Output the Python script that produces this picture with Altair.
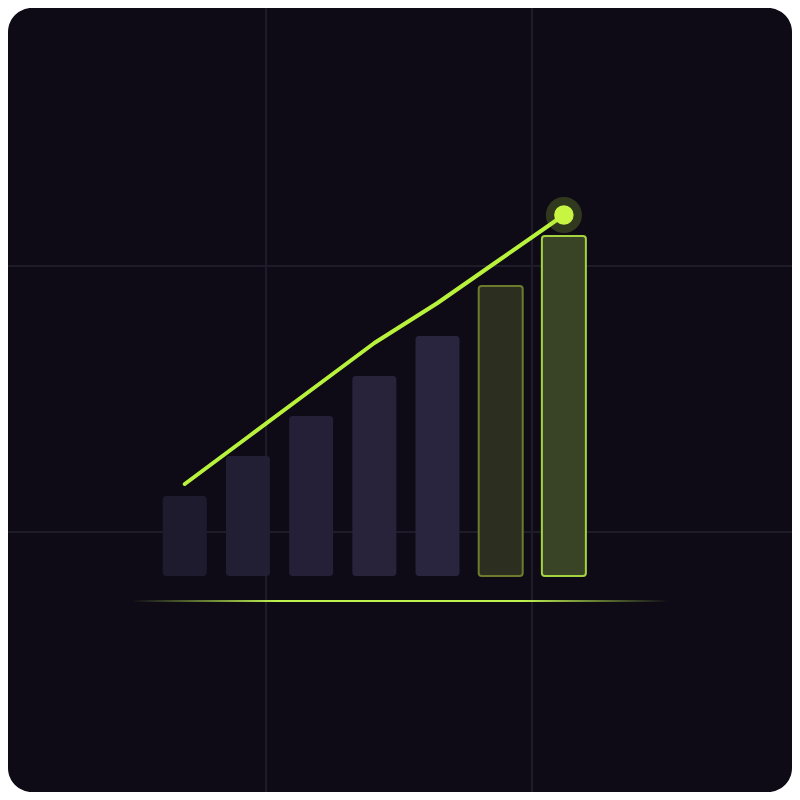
import altair as alt
import pandas as pd

# ---- data ----
bar_index = [0, 1, 2, 3, 4, 5, 6]
bar_values = [8.0, 12.0, 16.0, 20.0, 24.0, 29.0, 34.0]
line_values = [9.2, 13.9, 18.6, 23.3, 27.3, 31.7, 36.1]
highlight = [False, False, False, False, False, True, True]
baseline_span = [-0.84, 7.66]
baseline_level = [-2.4, -2.6]

# ---- styles ----
BG = "#0e0b17"
GRID = "#1f1c2a"
LIME = "#b9f23c"
purple_fills = ["#1e1b2e", "#221e33", "#252037", "#28233b", "#2a253f"]
green_fills = ["#2c2f20", "#394326"]
green_strokes = ["#6d7c2c", "#a5d23e"]

W = 784
H = 784

df = pd.DataFrame({
    "i": bar_index,
    "v": bar_values,
    "line": line_values,
    "hl": highlight,
    "base": [0.0] * len(bar_index),
})
df["key"] = df["i"].astype(str)

xscale = alt.Scale(domain=[-2.71875, 9.53125], nice=False, zero=False)
yscale = alt.Scale(domain=[-21.6, 56.8], nice=False, zero=False)
X = alt.X("i:Q", scale=xscale, axis=None)
Y = alt.Y("v:Q", scale=yscale, axis=None)

# decorative grid of the card (thirds)
grid_v = alt.Chart(pd.DataFrame({"g": [258, 524]})).mark_rule(
    color=GRID, strokeWidth=2
).encode(x=alt.X("g:Q", scale=None), y=alt.value(0), y2=alt.value(H))
grid_h = alt.Chart(pd.DataFrame({"g": [258, 524]})).mark_rule(
    color=GRID, strokeWidth=2
).encode(y=alt.Y("g:Q", scale=None), x=alt.value(0), x2=alt.value(W))

plain = df[~df["hl"]]
hl = df[df["hl"]]

bars_plain = alt.Chart(plain).mark_bar(size=44, cornerRadius=3).encode(
    x=X, y=Y, y2="base:Q",
    fill=alt.Fill("key:N", scale=alt.Scale(domain=list(plain["key"]), range=purple_fills), legend=None),
)

bars_hl = alt.Chart(hl).mark_bar(size=44, cornerRadius=3, strokeWidth=2).encode(
    x=X, y=Y, y2="base:Q",
    fill=alt.Fill("key:N", scale=alt.Scale(domain=list(hl["key"]), range=green_fills), legend=None),
    stroke=alt.Stroke("key:N", scale=alt.Scale(domain=list(hl["key"]), range=green_strokes), legend=None),
)

glow_df = pd.DataFrame({
    "x0": [baseline_span[0]], "x1": [baseline_span[1]],
    "y0": [baseline_level[0]], "y1": [baseline_level[1]],
})
glow = alt.Chart(glow_df).mark_rect(
    color=alt.Gradient(
        gradient="linear",
        stops=[
            alt.GradientStop(color="rgba(190,242,80,0)", offset=0),
            alt.GradientStop(color="rgba(190,242,80,1)", offset=0.27),
            alt.GradientStop(color="rgba(190,242,80,1)", offset=0.73),
            alt.GradientStop(color="rgba(190,242,80,0)", offset=1),
        ],
        x1=0, x2=1, y1=0, y2=0,
    )
).encode(
    x=alt.X("x0:Q", scale=xscale, axis=None), x2="x1:Q",
    y=alt.Y("y0:Q", scale=yscale, axis=None), y2="y1:Q",
)

line = alt.Chart(df).mark_line(
    color=LIME, strokeWidth=4, strokeCap="round", strokeJoin="round"
).encode(x=X, y=alt.Y("line:Q", scale=yscale, axis=None))

last = df.tail(1)
halo = alt.Chart(last).mark_point(
    shape="circle", filled=True, size=1300, color=LIME, opacity=0.2
).encode(x=X, y=alt.Y("line:Q", scale=yscale, axis=None))
dot = alt.Chart(last).mark_point(
    shape="circle", filled=True, size=380, color="#c8f542", opacity=1
).encode(x=X, y=alt.Y("line:Q", scale=yscale, axis=None))

chart = alt.layer(
    grid_v, grid_h, glow, bars_plain, bars_hl, line, halo, dot
).resolve_scale(
    fill="independent", stroke="independent"
).properties(
    width=W, height=H, padding=0, autosize=alt.AutoSizeParams(type="none"),
    background="#ffffff",
).configure_view(
    fill=BG, stroke=None, cornerRadius=24, clip=True
)

chart.save("out.html", embed_options={"renderer": "svg", "actions": False})
